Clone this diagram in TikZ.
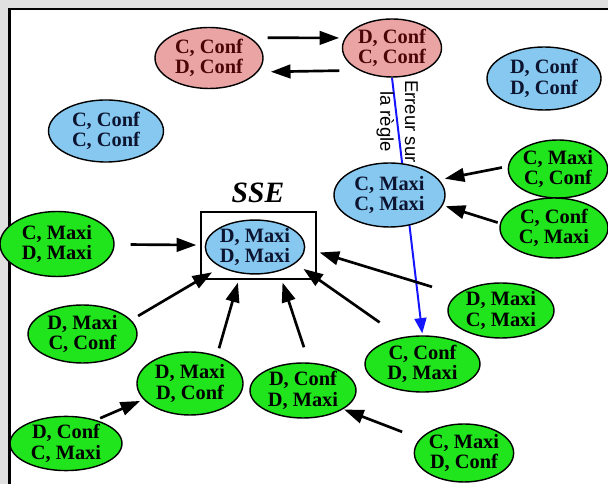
\documentclass[tikz,border=0pt]{standalone}
\usepackage{fontspec}
\setmainfont{Liberation Serif}
\setsansfont{Liberation Sans}
\usetikzlibrary{arrows.meta, shapes.geometric, backgrounds}
\definecolor{cpink}{HTML}{EBA4A4}
\definecolor{csky}{HTML}{86C8F0}
\definecolor{clime}{HTML}{20E41C}
\definecolor{cframe}{HTML}{E0E0E0}
\definecolor{crule}{HTML}{1414FF}
\definecolor{cmaroon}{HTML}{4A0606}
\definecolor{cnavy}{HTML}{0C1430}
\tikzset{
  state/.style={ellipse, draw=black, line width=1pt, fill=#1, inner sep=0pt, align=center,
    font=\fontsize{14.5}{14.8}\selectfont\bfseries},
  state/.default=csky,
  dims/.style 2 args={minimum width=#1mm, minimum height=#2mm},
  redstate/.style={state=cpink, text=cmaroon},
  bluestate/.style={state=csky, text=cnavy},
  greenstate/.style={state=clime, text=black},
  arrow/.style={-{Triangle[length=4.9mm, width=3.4mm]}, line width=1.9pt},
  rulearrow/.style={-{Triangle[length=3.8mm, width=3mm]}, draw=crule, line width=1.4pt},
  title/.style={font=\fontsize{21}{21}\selectfont\bfseries\itshape},
  note/.style={font=\sffamily\fontsize{13.2}{17.5}\selectfont, align=center},
}

\begin{document}
\begin{tikzpicture}[x=0.25mm, y=-0.25mm]
  \useasboundingbox (0,0) rectangle (608,484);
  \begin{scope}[on background layer]
    \fill[cframe] (0,0) rectangle (608,484);
    \fill[white] (9.3,9.3) rectangle (608,484);
    \draw[line width=0.6mm] (9.3,484) -- (9.3,9.3) -- (608,9.3);
  \end{scope}

  % states that keep changing
  \node[redstate, dims={27}{15.25}] (CcDc) at (209,58) {C, Conf\\D, Conf};
  \node[redstate, dims={24.75}{14.5}] (DcCc) at (392,48) {D, Conf\\C, Conf};
  % stable states
  \node[bluestate, dims={28.75}{15.5}] (CcCc) at (106,131) {C, Conf\\C, Conf};
  \node[bluestate, dims={28.5}{15.75}] (DcDc) at (544,78.5) {D, Conf\\D, Conf};
  \node[bluestate, dims={27.75}{16}] (CmCm) at (389.5,195) {C, Maxi\\C, Maxi};
  \node[bluestate, dims={24}{13.25}] (DmDm) at (255,247) {D, Maxi\\D, Maxi};
  \node[draw, line width=1pt, minimum width=28.75mm, minimum height=16.75mm] (ssebox) at (258.5,245.5) {};
  \node[title] (ssetitle) at (258,193) {SSE};
  % other states
  \node[greenstate, dims={23.5}{14.5}] (CmCc) at (558,169) {C, Maxi\\C, Conf};
  \node[greenstate, dims={27}{15}] (CcCm) at (554,228) {C, Conf\\C, Maxi};
  \node[greenstate, dims={28.5}{16.25}] (CmDm) at (57,244) {C, Maxi\\D, Maxi};
  \node[greenstate, dims={26.5}{13.75}] (DmCm) at (501,310.5) {D, Maxi\\C, Maxi};
  \node[greenstate, dims={27.25}{14.5}] (DmCc) at (82.5,334) {D, Maxi\\C, Conf};
  \node[greenstate, dims={28.75}{14}] (CcDm) at (422.5,364) {C, Conf\\D, Maxi};
  \node[greenstate, dims={26.5}{15.75}] (DmDc) at (190,383.5) {D, Maxi\\D, Conf};
  \node[greenstate, dims={26.5}{13.75}] (DcDm) at (303,390.5) {D, Conf\\D, Maxi};
  \node[greenstate, dims={28}{13.25}] (DcCm) at (66,443.5) {D, Conf\\C, Maxi};
  \node[greenstate, dims={24.5}{14.5}] (CmDc) at (464,453) {C, Maxi\\D, Conf};

  \draw[arrow, shorten <=4.25mm, shorten >=1.4mm] (CcDc.26) -- (DcCc.168);
  \draw[arrow, shorten <=4.9mm, shorten >=3.25mm] (DcCc.214) -- (CcDc.344);
  \draw[arrow, shorten <=4mm, shorten >=1mm] (CmDm) -- (ssebox);
  \draw[arrow, shorten <=2mm, shorten >=2.5mm] (DmCc.16) -- (DmDm);
  \draw[arrow, shorten <=1.9mm, shorten >=0.75mm] (DmDc.46) -- (ssebox.240);
  \draw[arrow, shorten <=4mm, shorten >=0.75mm] (DcDm.78) -- (ssebox.304);
  \draw[arrow, shorten <=6.5mm, shorten >=2.4mm] (CcDm.129) -- (DmDm.338);
  \draw[arrow, shorten <=6.5mm, shorten >=0.75mm] (DmCm.160) -- (ssebox.354);
  \draw[arrow, shorten <=1.5mm, shorten >=1.4mm] (CmCc.177) -- (CmCm.17);
  \draw[arrow, shorten <=0.6mm, shorten >=0.75mm] (CcCm.175) -- (CmCm.349);
  \draw[arrow, shorten <=1.1mm, shorten >=0.9mm] (DcCm.38) -- (DmDc.199);
  \draw[arrow, shorten <=4.75mm, shorten >=0.25mm] (CmDc.162) -- (DcDm.335);

  \begin{scope}[on background layer]
    \draw[rulearrow, shorten >=0.5mm] (DcCc.south) -- (CcDm.north)
      node[note, pos=0.17, rotate=-90] (rulelabel) {Erreur sur\\la règle};
  \end{scope}
\end{tikzpicture}
\end{document}
